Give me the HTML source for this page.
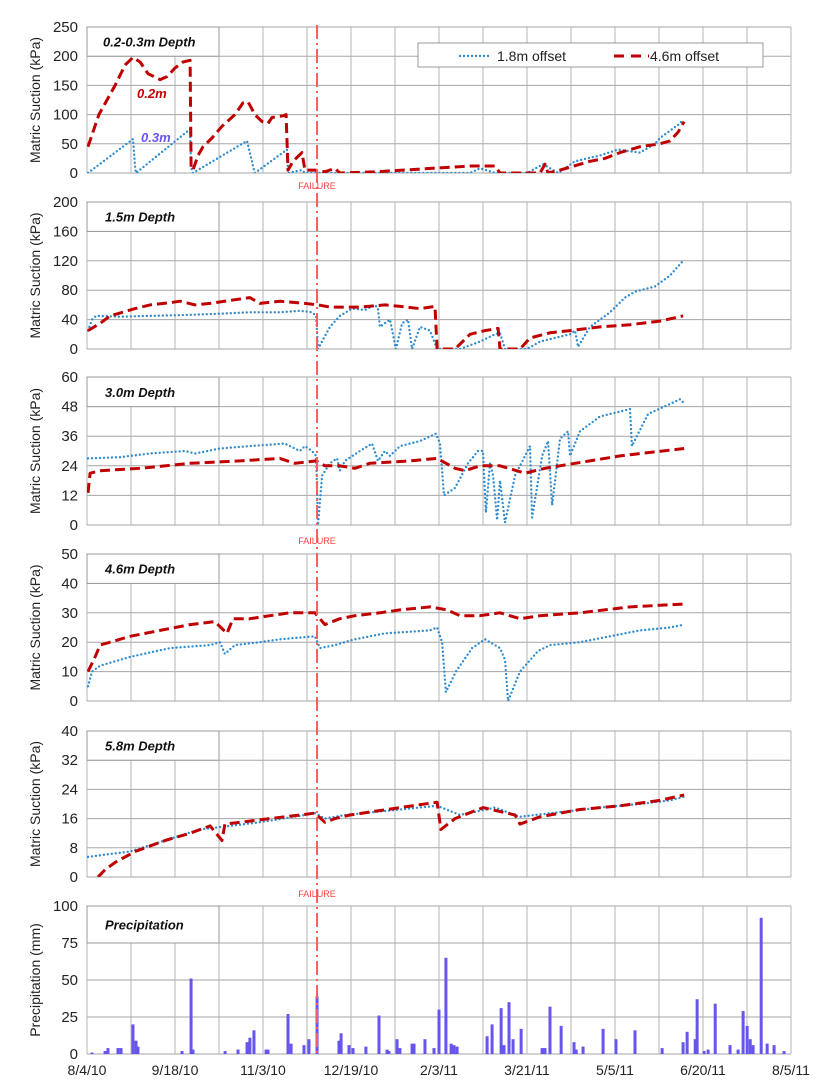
<!DOCTYPE html>
<html><head><meta charset="utf-8"><style>
html,body{margin:0;padding:0;background:#fff;}
svg{display:block;font-family:"Liberation Sans",Arial,sans-serif;}
</style></head><body>
<svg id="chart" width="821" height="1090" viewBox="0 0 821 1090"></svg>
<script>
// ---------- data (days since 8/4/10) ----------
const xTickLabels = ["8/4/10","9/18/10","11/3/10","12/19/10","2/3/11","3/21/11","5/5/11","6/20/11","8/5/11"];
const failureDay = 119.6;

const p1BlueDays = [0.5,23.9,25,25.5,53.6,54.1,55.1,83.2,86.8,87.3,104,104.5,111.8,113.3,199.1,204.3,212.1,228.8,237.1,244.9,253.7,266.7,276.1,287.5,295.3,297.9,308.3,309.9];
const p1BlueVals = [0,58,10,0,75,10,0,55,5,0,40,0,5,0,0,8,0,0,15,0,20,30,40,35,50,60,85,92];
const p1RedDays = [0.5,6.2,14.6,19.8,23.9,27.6,31.7,38,41.6,45.8,49.9,53.6,54.1,55.1,57.7,60.3,65,70.2,76.9,81.1,83.7,87.3,91,94.1,96.2,101.9,103.5,104.5,107.1,111.8,113.3,118.5,123.7,128.9,131.5,150,199.1,212.1,214.7,235.5,238.1,239.7,245.9,251.1,261.5,269.3,277.1,287.5,297.9,303.1,307.3,310.4];
const p1RedVals = [45,100,150,185,198,190,170,160,165,180,190,193,10,5,30,45,60,80,100,120,122,100,88,85,95,98,100,5,20,35,5,5,2,8,0,2,12,12,0,0,15,0,5,10,20,25,35,45,50,55,70,88];

const p2RedDays = [0.5,6.8,12,25,32.8,43.2,48.4,56.2,64,79.5,84.7,89.9,100.3,113.3,120.1,126.3,141.9,154.9,162.7,173.1,180.9,182,191.3,199.1,206.9,213.7,214.7,225.1,230.3,240.7,251.1,266.7,282.3,297.9,309.9];
const p2RedVals = [25,35,45,55,60,63,65,60,62,68,70,62,65,62,60,57,57,60,58,55,58,0,0,20,25,28,0,0,15,22,25,30,33,38,45];
const p2BlueDays = [0.5,2.6,4.7,17.2,32.8,48.4,69.1,84.7,100.3,110.7,117,119.1,120.1,126.3,131.5,137.8,144.5,149.7,151.3,152.3,157.5,160.6,163.8,166.9,169,173.1,178.3,182,193.9,204.3,212.1,214.7,217.3,228.8,235.5,251.1,253.7,255.3,261.5,271.9,279.7,284.9,295.3,303.1,309.9];
const p2BlueVals = [25,40,45,44,45,46,48,50,50,52,50,45,0,30,45,55,53,60,55,30,40,0,35,40,0,30,25,0,0,10,20,22,0,0,10,20,25,3,30,50,70,78,85,100,120];

const p3BlueDays = [0.5,17.2,32.8,51,56.2,69.1,84.7,102.9,110.7,113.3,117,119.1,120.1,122.2,126.3,130,131.5,134.1,141.9,148.2,151.3,154.9,157.5,162.7,173.1,181.4,183.5,185.6,191.3,198.1,203.3,205.9,207.4,209.5,211.1,213.2,214.7,217.3,222.5,230.3,231.4,236.6,239.7,241.8,245.9,250.1,251.1,256.3,266.7,282.3,283.3,291.7,305.7,308.3,310.9];
const p3BlueVals = [27,27.5,29,30,29,31,32,33,30,32,30,28,0,20,25,27,22,26,30,33,26,30,28,32,34,37,33,12,15,25,30,30,5,25,20,2,18,1,20,32,3,28,34,8,35,38,28,38,44,47,32,45,50,51,49];
const p3RedDays = [0.5,1.6,6.8,27.6,53.6,79.5,100.3,108.1,119.1,123.7,131.5,139.3,147.1,167.9,182,191.3,196.5,204.3,214.7,227.7,238.1,245.9,253.7,277.1,310.4];
const p3RedVals = [13,21,22,23,25,26,27,25,26,24,24,23,25,26,27,23,22,24,24,21,23,24,25,28,31];

const p4RedDays = [0.5,4.2,6.8,12,22.4,38,53.6,66.5,72.8,75.9,84.7,95.1,105.5,118.5,123.7,131.5,139.3,152.3,162.7,178.3,187.2,193.9,204.3,214.7,225.1,235.5,256.3,282.3,310.4];
const p4RedVals = [10,15,19,20,22,24,26,27,23,28,28,29,30,30,26,28,29,30,31,32,31,29,29,30,28,29,30,32,33];
const p4BlueDays = [0.5,2.6,6.8,22.4,43.2,64,69.1,71.7,76.9,89.9,100.3,118.5,121.1,128.9,139.3,154.9,178.3,182,184.6,186.6,191.8,200.2,206.9,214.7,217.3,218.9,225.1,234.5,240.7,256.3,271.9,287.5,303.1,310.4];
const p4BlueVals = [5,10,12,15,18,19,20,16,19,20,21,22,18,19,21,23,24,25,20,3,10,18,21,18,14,0,10,17,19,20,22,24,25,26];

const p5BlueDays = [0.5,22.4,40.6,58.7,89.9,113.3,118.5,123.7,134.1,162.7,182,193.9,212.1,225.1,232.9,266.7,287.5,303.1,310.4];
const p5BlueVals = [5.5,7,10,13,15,17,17.5,16,17,18.5,19.5,17,19,16.5,17,19,20,21,22];
const p5RedDays = [5.7,9.4,14.6,25,40.6,53.6,64,70.2,71.7,79.5,95.1,110.7,118.5,123.7,128.9,136.7,162.7,182,184,191.3,205.9,222.5,225.1,235.5,256.3,277.1,297.9,310.4];
const p5RedVals = [0,2,4,7,10,12,14,10,14.5,15,16,17,17.5,15,16,17,19,20.5,13,16,19,17,14.5,16.5,18.5,19.5,21,22.5];

const precipDays = [2.6,9.4,10.9,16.1,17.7,23.9,25.5,26.5,49.4,54.1,55.1,71.8,78.5,83.2,84.7,86.8,93.1,94.1,104.5,106.1,112.8,115.4,119.6,131,132.1,136.2,138.3,145,151.8,156,157,161.2,162.7,169,170,175.7,180.4,183,186.6,189.3,190.8,192.4,208,210.6,215.3,216.8,219.4,221.5,225.7,236.6,238.1,240.7,246.5,253.2,254.3,257.9,268.3,275,284.9,299,309.9,312,316.2,317.2,320.8,322.9,326.6,334.3,338.5,341.1,343.2,344.8,346.3,350.5,353.6,357.2,362.4];
const precipVals = [1,2,4,4,4,20,9,5,2,51,3,2,3,8,11,16,3,3,27,7,6,10,39,9,14,6,4,5,26,3,2,10,4,7,7,10,4,30,65,7,6,5,12,20,31,6,35,10,17,4,4,32,19,8,3,5,17,10,16,4,8,15,10,37,2,3,34,6,3,29,19,10,6,92,7,6,2];

// ---------- layout ----------
const NS = "http://www.w3.org/2000/svg";
const svg = document.getElementById("chart");
const X0 = 87, X1 = 791, DAYS = 366;
const xs = d => X0 + d * (X1 - X0) / DAYS;
function el(tag, attrs, parent) {
  const e = document.createElementNS(NS, tag);
  for (const k in attrs) e.setAttribute(k, attrs[k]);
  (parent || svg).appendChild(e);
  return e;
}
const panels = [
  {name:"depth-0.2-0.3m", title:"0.2-0.3m Depth", top:27, bot:173, max:250, step:50, ylab:"Matric Suction (kPa)", series:[[p1BlueDays,p1BlueVals,"blue"],[p1RedDays,p1RedVals,"red"]]},
  {name:"depth-1.5m", title:"1.5m Depth", top:202, bot:349, max:200, step:40, ylab:"Matric Suction (kPa)", series:[[p2BlueDays,p2BlueVals,"blue"],[p2RedDays,p2RedVals,"red"]]},
  {name:"depth-3.0m", title:"3.0m Depth", top:377, bot:525, max:60, step:12, ylab:"Matric Suction (kPa)", series:[[p3BlueDays,p3BlueVals,"blue"],[p3RedDays,p3RedVals,"red"]]},
  {name:"depth-4.6m", title:"4.6m Depth", top:554, bot:701, max:50, step:10, ylab:"Matric Suction (kPa)", series:[[p4BlueDays,p4BlueVals,"blue"],[p4RedDays,p4RedVals,"red"]]},
  {name:"depth-5.8m", title:"5.8m Depth", top:731, bot:877, max:40, step:8, ylab:"Matric Suction (kPa)", series:[[p5BlueDays,p5BlueVals,"blue"],[p5RedDays,p5RedVals,"red"]]},
  {name:"precipitation", title:"Precipitation", top:906, bot:1054, max:100, step:25, ylab:"Precipitation (mm)", series:[]}
];
const defs = el("defs", {});
panels.forEach((p, i) => {
  const g = el("g", {});
  
  
  const ys = v => p.bot - v * (p.bot - p.top) / p.max;
  const cp = el("clipPath", {id:"clip" + i}, defs);
  el("rect", {x:X0, y:p.top, width:X1 - X0, height:p.bot - p.top}, cp);
  // horizontal grid + y ticks
  for (let v = 0; v <= p.max + 1e-9; v += p.step) {
    const gl = el("line", {x1:X0, x2:X1, y1:ys(v), y2:ys(v), stroke:"#a6a6a6", "stroke-width":1}, g);
    
    
    const t = el("text", {x:X0 - 9, y:ys(v) + 5, "text-anchor":"end", "font-size":15, fill:"#222"}, g);
    t.textContent = String(v);
    
    
  }
  // vertical grid
  for (let k = 0; k <= 16; k++) {
    const x = xs(k * DAYS / 16);
    const vl = el("line", {x1:x, x2:x, y1:p.top, y2:p.bot, stroke:"#b4b4b4", "stroke-width":1}, g);
    
    
  }
  // y title
  const yt = el("text", {x:0, y:0, transform:`translate(40,${(p.top + p.bot) / 2}) rotate(-90)`, "text-anchor":"middle", "font-size":14, fill:"#222"}, g);
  yt.textContent = p.ylab;
  
  
  // title box
  const bh = ys(p.max - p.step) - p.top;
  const tb = el("rect", {x:X0, y:p.top, width:xs(3 * DAYS / 16) - X0, height:bh, fill:"#fff", stroke:"#999"}, g);
  
  
  const tt = el("text", {x:X0 + 18, y:p.top + bh / 2 + 5, "font-size":13, "font-weight":"bold", "font-style":"italic", fill:"#111"}, g);
  if (i === 0) tt.setAttribute("x", X0 + 16);
  tt.textContent = p.title;
  
  
  // series
  p.series.forEach(s => {
    const [days, vals, col] = s;
    const pts = days.map((d, j) => xs(d).toFixed(1) + "," + ys(vals[j]).toFixed(1)).join(" ");
    const line = el("polyline", {points:pts, fill:"none", "clip-path":`url(#clip${i})`,
      stroke: col === "red" ? "#c00000" : "#2f8ccf",
      "stroke-width": col === "red" ? 3 : 2.4,
      "stroke-dasharray": col === "red" ? "10,5" : "0,4",
      "stroke-linecap": col === "red" ? "butt" : "round",
      "stroke-linejoin":"round"}, g);
    
    
  });
  if (p.name === "precipitation") {
    precipDays.forEach((d, j) => {
      const b = el("rect", {x:xs(d) - 1.5, y:ys(precipVals[j]), width:3, height:p.bot - ys(precipVals[j]), fill:"#6655ee"}, g);
      
      
    });
    xTickLabels.forEach((lab, k) => {
      const t = el("text", {x:xs(k * DAYS / 8), y:1075, "text-anchor":"middle", "font-size":14, fill:"#222"}, g);
      t.textContent = lab;
      
      
    });
  }
});
// failure line
const fx = xs(failureDay);
const fl = el("line", {x1:fx, x2:fx, y1:25, y2:1054, stroke:"#ff5a5a", "stroke-width":2, "stroke-dasharray":"14,4,2,4"});


[185, 540, 893].forEach(y => {
  const t = el("text", {x:fx, y:y + 4, "text-anchor":"middle", "font-size":9, fill:"#ff4040"});
  t.textContent = "FAILURE";
  
  
});
// annotations
const a1 = el("text", {x:137, y:98, "font-size":13, "font-weight":"bold", "font-style":"italic", fill:"#c00000"});
a1.textContent = "0.2m";


const a2 = el("text", {x:141, y:142, "font-size":13, "font-weight":"bold", "font-style":"italic", fill:"#6655ee"});
a2.textContent = "0.3m";


// legend
const lg = el("g", {});


el("rect", {x:418, y:43, width:345, height:24, fill:"#fff", stroke:"#999"}, lg);
const l1 = el("line", {x1:460, x2:492, y1:56, y2:56, stroke:"#2f8ccf", "stroke-width":2.4, "stroke-dasharray":"0,4", "stroke-linecap":"round"}, lg);


const t1 = el("text", {x:497, y:61, "font-size":14, fill:"#222"}, lg);
t1.textContent = "1.8m offset";


const l2 = el("line", {x1:614, x2:649, y1:56, y2:56, stroke:"#c00000", "stroke-width":3, "stroke-dasharray":"10,7"}, lg);


const t2 = el("text", {x:650, y:61, "font-size":14, fill:"#222"}, lg);
t2.textContent = "4.6m offset";


</script>
</body></html>
